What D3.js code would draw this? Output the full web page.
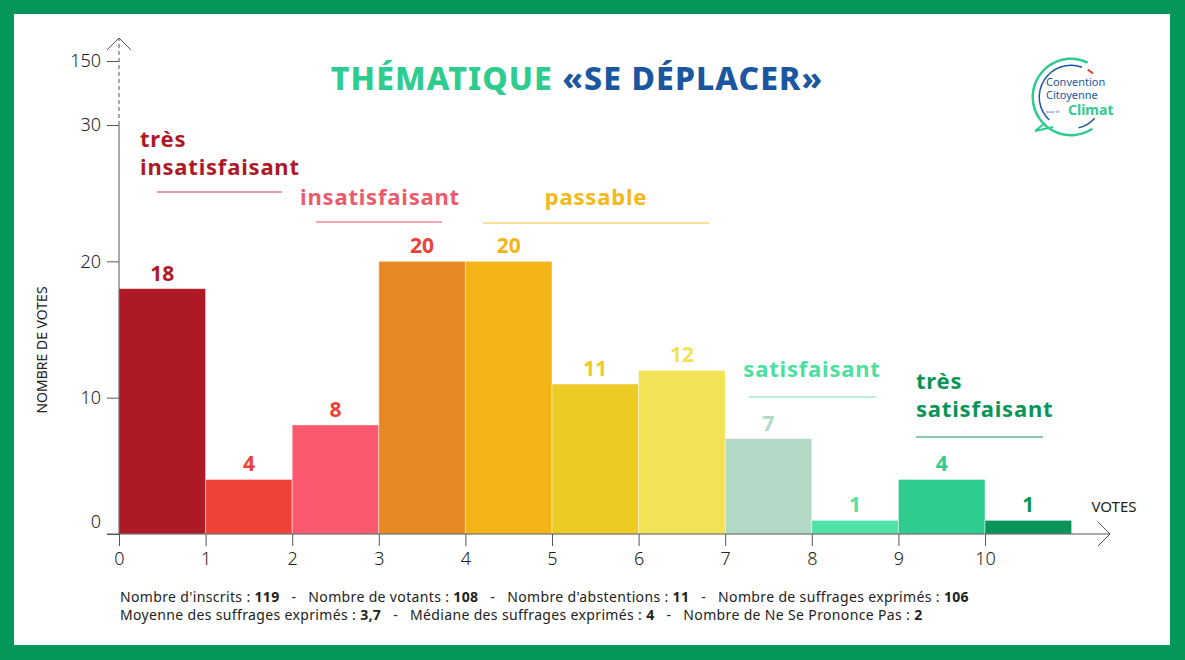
<!DOCTYPE html>
<html><head><meta charset="utf-8">
<script src="https://cdn.jsdelivr.net/npm/d3@7/dist/d3.min.js"></script>
<style>
html,body{margin:0;padding:0;background:#fff;}
svg{display:block;}
text{font-family:"Noto Sans",sans-serif;}
</style></head>
<body>
<svg id="c" width="1185" height="660"></svg>
<script>
// ---- data ----
const voteValues = [0,1,2,3,4,5,6,7,8,9,10];
const voteCounts = [18,4,8,20,20,11,12,7,1,4,1];
const barColors = ["#ad1a25","#ef4136","#f9596f","#e68824","#f3b417","#ebcb24","#f1e256","#b3d9c7","#50e1a4","#2ecc8f","#0a9458"];
const labelColors = ["#ad1a25","#ef4136","#ef4136","#ef4136","#f3b417","#ebcb24","#f1e256","#b3d9c7","#50e1a4","#2ecc8f","#0a9458"];
const yTickValues = [0,10,20,30,150];
const xTickValues = [0,1,2,3,4,5,6,7,8,9,10];
const categories = [
  {lines:["très","insatisfaisant"], color:"#ad1a25", rule:"#dc7f88"},
  {lines:["insatisfaisant"], color:"#ea5c6c", rule:"#f38994"},
  {lines:["passable"], color:"#f3b81a", rule:"#f7d771"},
  {lines:["satisfaisant"], color:"#4ddfa0", rule:"#9cecc9"},
  {lines:["très","satisfaisant"], color:"#0a9458", rule:"#5fbb93"}
];
const footerLine1 = [["Nombre d'inscrits : ",false],["119",true],["   -   Nombre de votants : ",false],["108",true],["   -   Nombre d'abstentions : ",false],["11",true],["   -   Nombre de suffrages exprimés : ",false],["106",true]];
const footerLine2 = [["Moyenne des suffrages exprimés : ",false],["3,7",true],["   -   Médiane des suffrages exprimés : ",false],["4",true],["   -   Nombre de Ne Se Prononce Pas : ",false],["2",true]];

// ---- drawing ----
const svg = d3.select("#c");
const W = 1185, H = 660;
// frame
svg.append("rect").attr("x",0).attr("y",0).attr("width",W).attr("height",H).attr("fill","#05975a");
svg.append("rect").attr("x",14).attr("y",14).attr("width",W-29).attr("height",H-29).attr("fill","#fff");

const x = d3.scaleLinear().domain([0,10]).range([119,985]);
const y = d3.scaleLinear().domain([0,30,150]).range([534,125,61]);

// bars
svg.selectAll("rect.bar").data(voteCounts).join("rect")
  .attr("class","bar")
  .attr("x",(d,i)=>x(voteValues[i]))
  .attr("width",(d,i)=>x(voteValues[i]+1)-x(voteValues[i]))
  .attr("y",d=>y(d))
  .attr("height",d=>y(0)-y(d))
  .attr("fill",(d,i)=>barColors[i])
  .attr("stroke","rgba(255,255,255,0.45)").attr("stroke-width",1);

// value labels
svg.selectAll("text.val").data(voteCounts).join("text")
  .attr("class","val")
  .attr("x",(d,i)=>(x(voteValues[i])+x(voteValues[i]+1))/2)
  .attr("y",d=>y(d)-8)
  .attr("text-anchor","middle")
  .attr("font-size",21).attr("font-weight",700)
  .attr("fill",(d,i)=>labelColors[i])
  .text(d=>d);

const axisColor = "#555";
// y axis line: solid 0..30, dashed to arrow
svg.append("line").attr("x1",x(0)).attr("x2",x(0)).attr("y1",y(0)).attr("y2",y(30)).attr("stroke",axisColor).attr("stroke-width",1);
svg.append("line").attr("x1",x(0)).attr("x2",x(0)).attr("y1",y(30)).attr("y2",38).attr("stroke",axisColor).attr("stroke-width",1).attr("stroke-dasharray","4,3");
svg.append("path").attr("d",`M${x(0)-12},50L${x(0)},38L${x(0)+12},50`).attr("fill","none").attr("stroke",axisColor);

// y ticks via axis
const yAxis = d3.axisLeft(y).tickValues(yTickValues).tickSize(12).tickPadding(6).tickFormat(d3.format("d"));
const gy = svg.append("g").attr("transform",`translate(${x(0)},0)`).call(yAxis);
gy.select(".domain").remove();
gy.selectAll(".tick line").attr("stroke",axisColor);
gy.selectAll(".tick text").attr("font-size",18).attr("fill","#222").attr("font-family","Lato, sans-serif").attr("font-weight",300);
gy.selectAll(".tick").filter(d=>d===0).select("text").attr("dy","-0.35em");

// x axis
svg.append("line").attr("x1",x(0)-12).attr("x2",1110).attr("y1",y(0)).attr("y2",y(0)).attr("stroke",axisColor);
svg.append("path").attr("d",`M1098,522L1110,534L1098,546`).attr("fill","none").attr("stroke",axisColor);
const xAxis = d3.axisBottom(x).tickValues(xTickValues).tickSize(12).tickPadding(6).tickFormat(d3.format("d"));
const gx = svg.append("g").attr("transform",`translate(0,${y(0)})`).call(xAxis);
gx.select(".domain").remove();
gx.selectAll(".tick line").attr("stroke",axisColor);
gx.selectAll(".tick text").attr("font-size",18).attr("fill","#222").attr("font-family","Lato, sans-serif").attr("font-weight",300);

svg.append("text").attr("x",1114).attr("y",512).attr("text-anchor","middle").attr("font-size",15).attr("fill","#222")
  .attr("font-family","Lato, sans-serif").text("VOTES");
svg.append("text").attr("transform","translate(47,350) rotate(-90)").attr("text-anchor","middle").attr("font-size",14)
  .attr("fill","#222").attr("font-family","Lato, sans-serif").text("NOMBRE DE VOTES");

// category labels
const catLayout = [
  {x:140, ys:[147,175], anchor:"start", rx1:157, rx2:282, ry:192},
  {x:380, ys:[205], anchor:"middle", rx1:316, rx2:442, ry:222},
  {x:596, ys:[205], anchor:"middle", rx1:483, rx2:709, ry:223},
  {x:812, ys:[377], anchor:"middle", rx1:749, rx2:876, ry:397},
  {x:916, ys:[389,417], anchor:"start", rx1:916, rx2:1043, ry:437}
];
categories.forEach((c,i)=>{
  const L = catLayout[i];
  c.lines.forEach((ln,j)=>{
    svg.append("text").attr("x",L.x).attr("y",L.ys[j]).attr("text-anchor",L.anchor)
      .attr("font-size",22).attr("font-weight",700).attr("letter-spacing",0.8).attr("fill",c.color).text(ln);
  });
  svg.append("line").attr("x1",L.rx1).attr("x2",L.rx2).attr("y1",L.ry).attr("y2",L.ry).attr("stroke",c.rule).attr("stroke-width",1.5);
});

// title
const t = svg.append("text").attr("x",577).attr("y",90).attr("text-anchor","middle").attr("font-size",32).attr("font-weight",800).attr("letter-spacing",1.1);
t.append("tspan").attr("fill","#2fcc8f").text("THÉMATIQUE ");
t.append("tspan").attr("fill","#1b57a0").text("«SE DÉPLACER»");

// footer
function footer(parts, yy){
  const tx = svg.append("text").attr("x",120).attr("y",yy).attr("font-size",14).attr("letter-spacing",0.35).attr("fill","#222").attr("xml:space","preserve").style("white-space","pre");
  parts.forEach(p=>tx.append("tspan").attr("font-weight",p[1]?700:400).text(p[0]));
}
footer(footerLine1, 602);
footer(footerLine2, 620);

// logo
const lg = svg.append("g").attr("transform","translate(1071,97)");
lg.append("path").attr("d",d3.arc()({innerRadius:37,outerRadius:39.5,startAngle:2.55,endAngle:2*Math.PI+0.45})).attr("fill","#2fcc8f");
lg.append("path").attr("d","M-26,26L-36,34L-18,30").attr("fill","none").attr("stroke","#2fcc8f").attr("stroke-width",2.2);
lg.append("path").attr("d",d3.arc()({innerRadius:31,outerRadius:32.5,startAngle:3.9,endAngle:2*Math.PI+0.35})).attr("fill","#1b57a0");
lg.append("path").attr("d",d3.arc()({innerRadius:31,outerRadius:32.5,startAngle:2.3,endAngle:2.9})).attr("fill","#1b57a0");
lg.append("path").attr("d",d3.arc()({innerRadius:31,outerRadius:33,startAngle:0.55,endAngle:0.75})).attr("fill","#ef4136");
lg.append("text").attr("x",-25).attr("y",-11).attr("font-size",11).attr("fill","#1b57a0").text("Convention");
lg.append("text").attr("x",-25).attr("y",2).attr("font-size",11).attr("fill","#1b57a0").text("Citoyenne");
lg.append("text").attr("x",-25).attr("y",16).attr("font-size",4).attr("fill","#1b57a0").text("pour le");
lg.append("text").attr("x",-3).attr("y",18).attr("font-size",14).attr("font-weight",700).attr("fill","#2fcc8f").text("Climat");
</script>
</body></html>
